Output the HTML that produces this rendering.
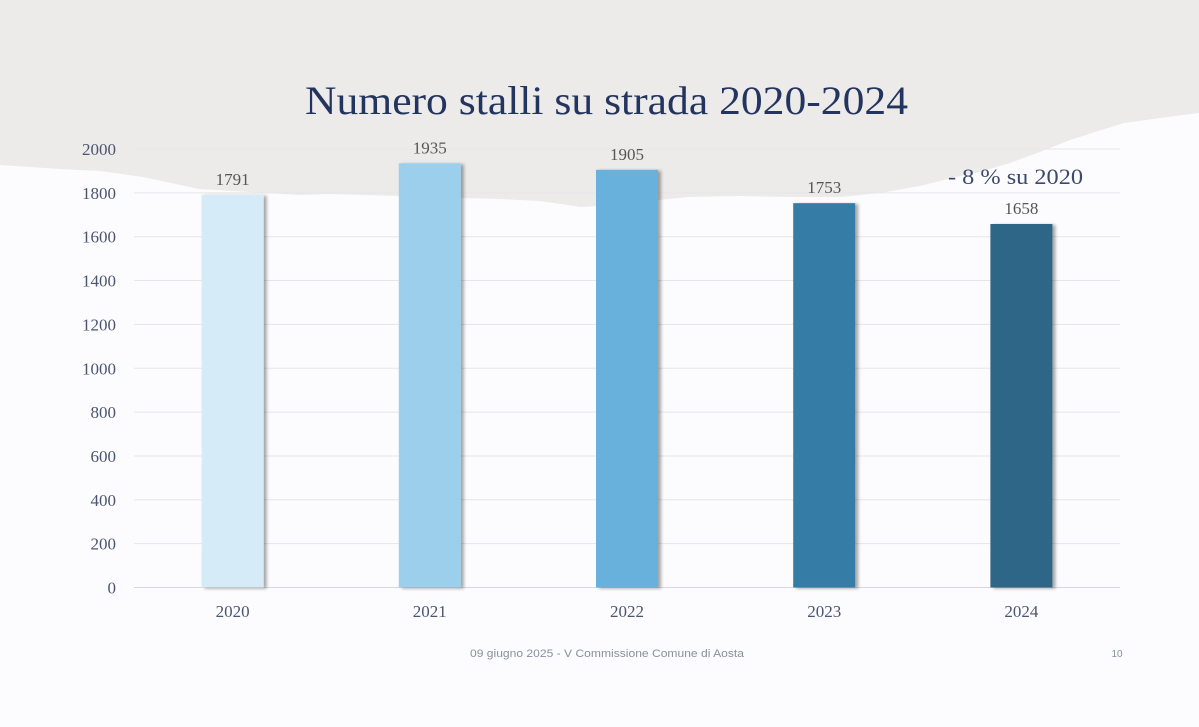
<!DOCTYPE html>
<html><head><meta charset="utf-8">
<style>
html,body{margin:0;padding:0;background:#fcfcfe;}
svg{display:block;}
text{font-family:"Liberation Serif",serif;}
</style></head>
<body>
<svg id="chart" width="1199" height="727" viewBox="0 0 1199 727" xmlns="http://www.w3.org/2000/svg">
  <defs>
    <filter id="sh" x="-20%" y="-5%" width="140%" height="110%">
      <feDropShadow dx="3" dy="1" stdDeviation="1.5" flood-color="#000" flood-opacity="0.35"/>
    </filter>
  </defs>
  <rect x="0" y="0" width="1199" height="727" fill="#fcfcfe"/>
  <path fill="#ecebe9"
    d="M0,0 H1199 V113 L1160,118 L1124,123 L1095,132 L1070,140 L1040,152 L1010,163 L980,172 L956,177 L920,186 L880,193 L841,197 L790,197 L740,196 L688,197 L640,202 L600,206 L581,207 L540,201 L500,199 L460,198 L400,196 L330,194 L300,195 L250,192 L199,189 L143,177 L100,171 L60,169 L0,165 Z"/>
  <text x="305" y="114" textLength="603" lengthAdjust="spacingAndGlyphs" font-size="40" fill="#23355f">Numero stalli su strada 2020-2024</text>
  <g id="grid"></g>
  <g id="yticks"></g>
  <g id="bars"></g>
  <g id="xlabels"></g>
  <text x="948" y="184" textLength="135" lengthAdjust="spacingAndGlyphs" font-size="22" fill="#3a4a6a">- 8 % su 2020</text>
  <text x="470" y="657" textLength="274" lengthAdjust="spacingAndGlyphs" font-size="11" fill="#8a8f9a" style="font-family:'Liberation Sans',sans-serif">09 giugno 2025 - V Commissione Comune di Aosta</text>
  <text x="1117" y="657" text-anchor="middle" font-size="10" fill="#8a8f9a" style="font-family:'Liberation Sans',sans-serif">10</text>
</svg>
<script>
const categories = ["2020","2021","2022","2023","2024"];
const values = [1791,1935,1905,1753,1658];
const barColors = ["#d5ebf7","#9ccfec","#67b1dd","#357ca6","#2e6687"];
const yTicks = [0,200,400,600,800,1000,1200,1400,1600,1800,2000];

const NS = "http://www.w3.org/2000/svg";
const plotL = 134, plotR = 1120, y0 = 587.5, yTop = 149, yMax = 2000;
const yScale = v => y0 - (v / yMax) * (y0 - yTop);
const band = (plotR - plotL) / categories.length;
const xCenter = i => plotL + band * (i + 0.5);
const barW = 62;

function mk(tag, attrs, parent) {
  const el = document.createElementNS(NS, tag);
  for (const k in attrs) el.setAttribute(k, attrs[k]);
  parent.appendChild(el);
  return el;
}
const grid = document.getElementById('grid');
const yt = document.getElementById('yticks');
yTicks.forEach(t => {
  const y = yScale(t);
  const l = mk('line', {x1: plotL, x2: plotR, y1: y, y2: y, stroke: t === 0 ? '#d8d8dc' : '#e6e6ea', 'stroke-width': 1}, grid);
  
  
  const tx = mk('text', {x: 116, y: y + 6, 'text-anchor': 'end', 'font-size': 17, fill: '#4a5570'}, yt);
  tx.textContent = t;
  
  
});
const bars = document.getElementById('bars');
const xl = document.getElementById('xlabels');
categories.forEach((c, i) => {
  const cx = xCenter(i), v = values[i];
  const r = mk('rect', {x: cx - barW / 2, y: yScale(v), width: barW, height: y0 - yScale(v), fill: barColors[i], filter: 'url(#sh)'}, bars);
  
  
  const vl = mk('text', {x: cx, y: yScale(v) - 10, 'text-anchor': 'middle', 'font-size': 17, fill: '#555'}, bars);
  vl.textContent = v;
  
  
  const xt = mk('text', {x: cx, y: 617, 'text-anchor': 'middle', 'font-size': 17, fill: '#4a5570'}, xl);
  xt.textContent = c;
  
  
});
</script>
</body></html>
